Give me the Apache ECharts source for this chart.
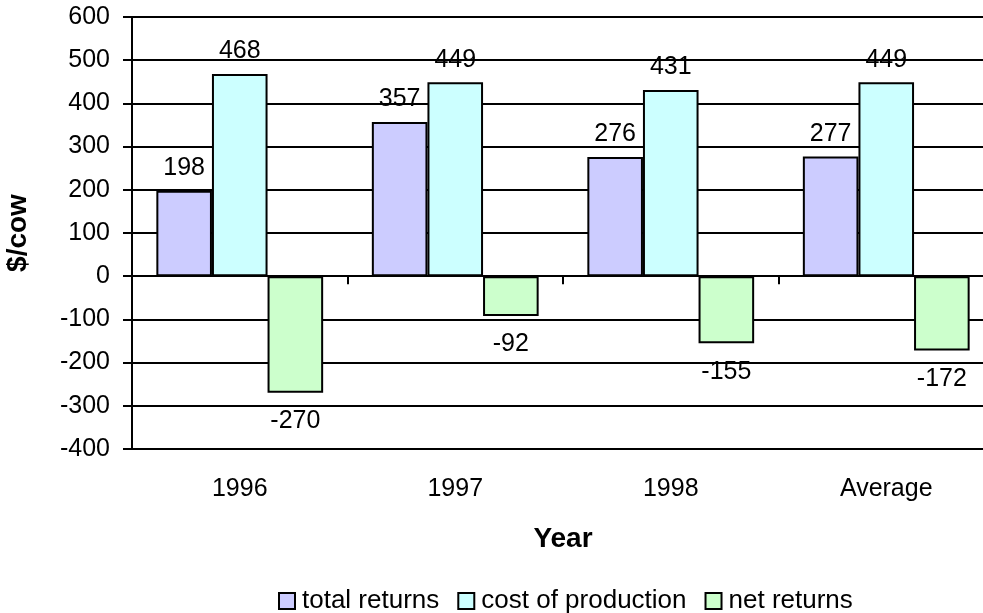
<!DOCTYPE html>
<html>
<head>
<meta charset="utf-8">
<script src="https://cdn.jsdelivr.net/npm/echarts@6/dist/echarts.min.js"></script>
<style>
  html, body { margin: 0; padding: 0; background: #fff; }
  #returnsChart { width: 983px; height: 613px; }
</style>
</head>
<body>
<div id="returnsChart"></div>
<script>
/**
 * returns per cow, by year
 */
const years = ['1996', '1997', '1998', 'Average'];
const totalReturns = [198, 357, 276, 277];
const costOfProduction = [468, 449, 431, 449];
const netReturns = [-270, -92, -155, -172];
const seriesNames = ['total returns', 'cost of production', 'net returns'];

const font = "'Liberation Sans', Arial, sans-serif";

function barSeries(name, data, color, pos, dist) {
    return {
        name: name,
        type: 'bar',
        xAxisIndex: 0,
        data: data,
        barGap: '0%',
        barCategoryGap: '22.6%',
        itemStyle: {
            color: color,
            borderColor: '#000',
            borderWidth: 2
        },
        label: {
            show: true,
            position: pos,
            distance: dist,
            color: '#000',
            fontSize: 25,
            fontFamily: font
        }
    };
}

const returnsOption = {
    animation: false,
    backgroundColor: '#fff',
    textStyle: { fontFamily: font, color: '#000' },
    grid: {
        left: 132,
        top: 17,
        right: -11,
        bottom: 164,
        outerBoundsMode: 'none'
    },
    legend: {
        left: 273,
        top: 583,
        icon: 'rect',
        itemWidth: 16,
        itemHeight: 16,
        itemGap: 18,
        itemStyle: { borderColor: '#000', borderWidth: 2 },
        textStyle: { fontSize: 26, color: '#000', fontFamily: font, padding: [0, 0, 0, 2] },
        data: seriesNames
    },
    xAxis: [
        {
            // axis line at zero, ticks between the categories
            type: 'category',
            data: years,
            position: 'top',
            axisLine: { onZero: true, lineStyle: { color: '#000', width: 2 } },
            axisTick: { show: true, inside: true, length: 8, lineStyle: { color: '#000', width: 2 } },
            axisLabel: { show: false },
            splitLine: { show: false }
        },
        {
            // category labels under the plot
            type: 'category',
            data: years,
            position: 'bottom',
            axisLine: { show: false, onZero: false },
            axisTick: { show: false },
            axisLabel: { margin: 28, fontSize: 25, color: '#000', fontFamily: font },
            splitLine: { show: false },
            name: 'Year',
            nameLocation: 'middle',
            nameGap: 76,
            nameTextStyle: { fontSize: 28, fontWeight: 'bold', color: '#000', fontFamily: font }
        }
    ],
    yAxis: {
        type: 'value',
        min: -400,
        max: 600,
        interval: 100,
        axisLine: { show: true, lineStyle: { color: '#000', width: 2 } },
        axisTick: { show: true, length: 9, lineStyle: { color: '#000', width: 2 } },
        axisLabel: { margin: 22, fontSize: 25, color: '#000', fontFamily: font },
        splitLine: { show: true, lineStyle: { color: '#000', width: 2 } },
        name: '$/cow',
        nameLocation: 'middle',
        nameGap: 100,
        nameTextStyle: { fontSize: 28, fontWeight: 'bold', color: '#000', fontFamily: font }
    },
    series: [
        barSeries(seriesNames[0], totalReturns, '#ccccff', 'top', 10),
        barSeries(seriesNames[1], costOfProduction, '#ccffff', 'top', 10),
        barSeries(seriesNames[2], netReturns, '#ccffcc', 'bottom', 16)
    ]
};

const returnsChart = echarts.init(document.getElementById('returnsChart'));
returnsChart.setOption(returnsOption);
</script>
</body>
</html>
